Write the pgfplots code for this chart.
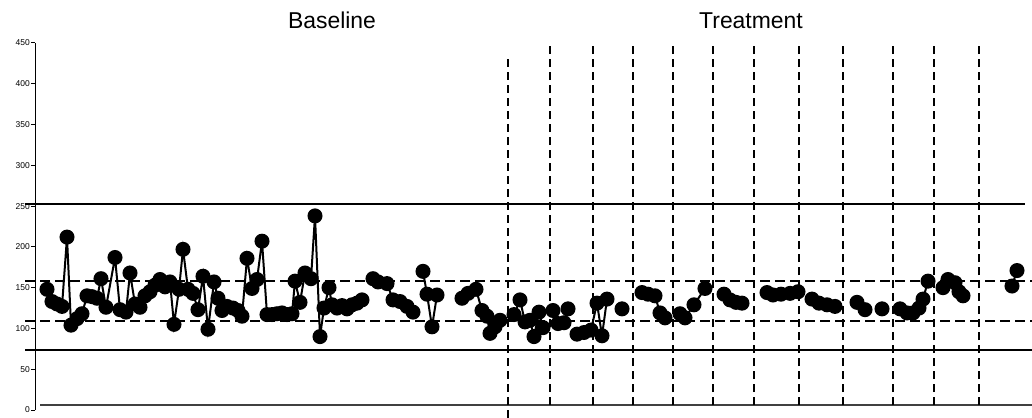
\documentclass[border=0pt]{standalone}
\usepackage{fontspec}
\setmainfont{Liberation Sans}
\usepackage{pgfplots}
\pgfplotsset{compat=1.18}
\begin{document}
\begin{tikzpicture}
\begin{axis}[
  scale only axis, width=997bp, height=367bp,
  xmin=35, xmax=1032, ymin=0, ymax=450,
  axis x line=none, axis y line=left,
  axis line style={-, line width=1bp, black},
  ytick={0,50,...,450}, xtick=\empty,
  tick align=outside, major tick length=4bp,
  tick style={black, line width=1bp},
  yticklabel style={font=\fontsize{8.5}{9}\selectfont, inner sep=1bp},
  /pgf/number format/assume math mode=true,
  clip=false,
  unbounded coords=jump,
]
% control limits
\addplot[black, line width=2bp] coordinates {(25,252) (1025,252)};
\addplot[black, line width=2bp] coordinates {(25,74) (1032,74)};
\addplot[black!75, line width=2.2bp] coordinates {(40,6) (1032,6)};
\addplot[black, line width=2bp, dash pattern=on 10bp off 5bp] coordinates {(25,158.5) (1032,158.5)};
\addplot[black, line width=2bp, dash pattern=on 10bp off 5bp] coordinates {(25,109.5) (1032,109.5)};
% phase lines
\addplot[black, line width=1.8bp, dash pattern=on 8bp off 5bp] coordinates {(508,-9.8) (508,435)};
\addplot[black, line width=1.8bp, dash pattern=on 8bp off 5bp] coordinates {(550,6) (550,447)};
\addplot[black, line width=1.8bp, dash pattern=on 8bp off 5bp] coordinates {(593,6) (593,447)};
\addplot[black, line width=1.8bp, dash pattern=on 8bp off 5bp] coordinates {(633,6) (633,447)};
\addplot[black, line width=1.8bp, dash pattern=on 8bp off 5bp] coordinates {(673,6) (673,447)};
\addplot[black, line width=1.8bp, dash pattern=on 8bp off 5bp] coordinates {(713,6) (713,447)};
\addplot[black, line width=1.8bp, dash pattern=on 8bp off 5bp] coordinates {(754,6) (754,447)};
\addplot[black, line width=1.8bp, dash pattern=on 8bp off 5bp] coordinates {(799,6) (799,447)};
\addplot[black, line width=1.8bp, dash pattern=on 8bp off 5bp] coordinates {(843,6) (843,447)};
\addplot[black, line width=1.8bp, dash pattern=on 8bp off 5bp] coordinates {(893,6) (893,447)};
\addplot[black, line width=1.8bp, dash pattern=on 8bp off 5bp] coordinates {(934,6) (934,447)};
\addplot[black, line width=1.8bp, dash pattern=on 8bp off 5bp] coordinates {(979,6) (979,447)};
% data
\addplot[black, line width=2bp, mark=*, mark size=6.5bp, mark options={fill=black, solid}] coordinates {
(47,148) (52,133) (57,130) (62,127) (67,212) (71,104) (77,112) (82,118) (87,140) (92,139) (97,137)
(101,161) (106,126) (115,187) (120,123) (126,120) (130,168) (135,130) (140,126) (145,140) (150,145)
(155,153) (160,160) (165,151) (170,157) (174,105) (179,148) (183,197) (188,148) (193,143) (198,123)
(203,164) (208,99) (214,157) (218,137) (222,122) (227,127) (233,125) (238,122) (242,115) (247,186)
(252,149) (257,160) (262,207) (267,117) (272,117) (277,118) (282,119) (287,117) (292,118) (295,158)
(300,132) (305,168) (311,161) (315,238) (320,90) (324,125) (329,150) (332,129) (337,125) (342,128)
(347,124) (352,129) (357,131) (362,135)
(367,nan)
(373,161) (378,157) (387,155) (393,135) (400,133) (407,127) (413,120)
(418,nan)
(423,170) (427,142) (432,102) (437,141)
(450,nan)
(462,137) (468,143) (476,148) (482,122) (487,115) (490,94) (495,102) (500,110)
(505,nan)
(514,117) (520,135) (525,108) (530,110) (534,90) (539,120) (543,101)
(548,nan)
(553,122) (558,106) (564,107) (568,124)
(572,nan)
(577,93) (584,95) (591,98) (597,131) (602,91) (607,136)
(614,nan)
(622,124)
(630,nan)
(642,144) (648,142) (655,140) (660,119) (665,113)
(672,nan)
(680,118) (685,113) (694,129) (705,149)
(712,nan)
(724,142) (730,135) (736,132) (742,131)
(755,nan)
(767,144) (773,141) (781,142) (790,143) (798,145)
(804,nan)
(812,136) (819,131) (827,129) (835,127)
(845,nan)
(857,132) (865,123)
(872,nan)
(882,124)
(892,nan)
(900,124) (907,119) (913,119) (919,125) (923,136) (928,158)
(935,nan)
(943,150) (948,160) (955,156) (959,145) (963,140)
(990,nan)
(1012,152) (1017,171)
};
\node[anchor=base, font=\fontsize{23}{27}\selectfont] at (axis cs:332,468) {Baseline};
\node[anchor=base, font=\fontsize{23}{27}\selectfont] at (axis cs:751,468) {Treatment};
\coordinate (BL) at (axis cs:0,-9.8);
\coordinate (TR) at (axis cs:1032,502.7);
\end{axis}
\pgfresetboundingbox
\path (BL) rectangle (TR);
\end{tikzpicture}
\end{document}
